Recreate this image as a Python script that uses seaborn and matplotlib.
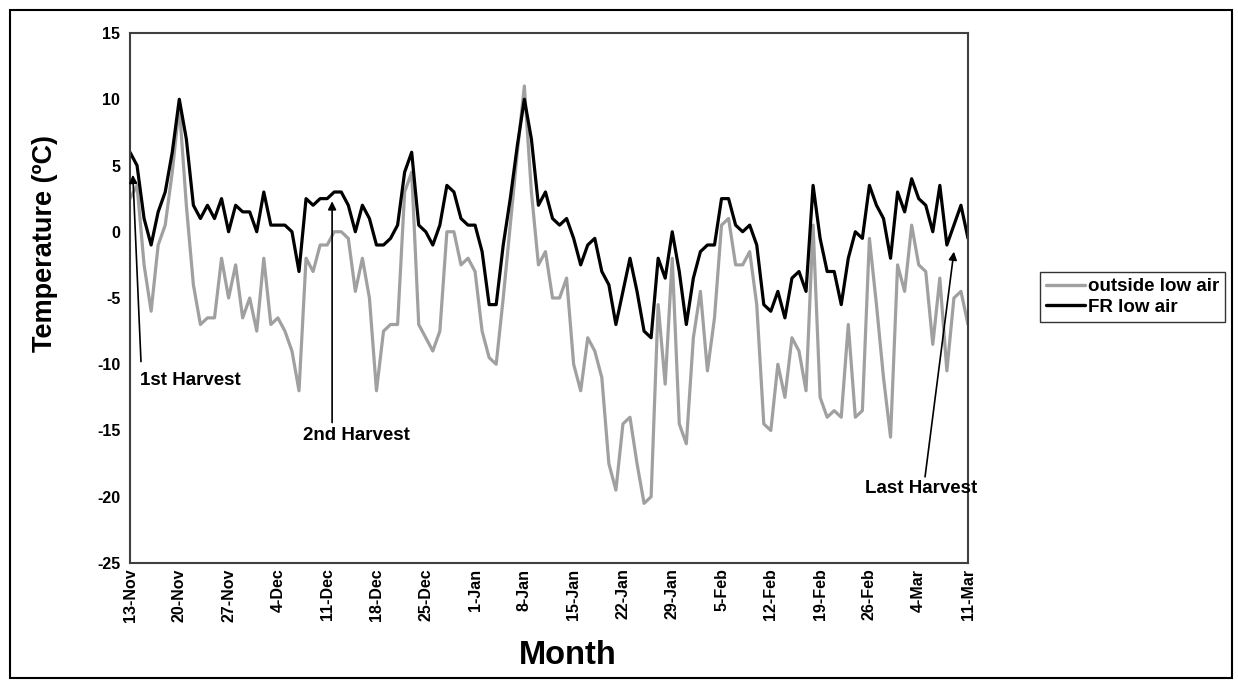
import matplotlib
matplotlib.use("Agg")
import matplotlib.pyplot as plt
import matplotlib.patches as patches
import seaborn as sns
import numpy as np
import pandas as pd

# ---- data ----
tick_labels = ["13-Nov", "20-Nov", "27-Nov", "4-Dec", "11-Dec", "18-Dec", "25-Dec",
               "1-Jan", "8-Jan", "15-Jan", "22-Jan", "29-Jan", "5-Feb", "12-Feb",
               "19-Feb", "26-Feb", "4-Mar", "11-Mar"]
tick_days = [0, 7, 14, 21, 28, 35, 42, 49, 56, 63, 70, 77, 84, 91, 98, 105, 112, 119]

fr_low_air = [6, 5, 1, -1, 1.5, 3, 6, 10, 7, 2,
              1, 2, 1, 2.5, 0, 2, 1.5, 1.5, 0, 3,
              0.5, 0.5, 0.5, 0, -3, 2.5, 2, 2.5, 2.5, 3,
              3, 2, 0, 2, 1, -1, -1, -0.5, 0.5, 4.5,
              6, 0.5, 0, -1, 0.5, 3.5, 3, 1, 0.5, 0.5,
              -1.5, -5.5, -5.5, -1, 2.5, 6.5, 10, 7, 2, 3,
              1, 0.5, 1, -0.5, -2.5, -1, -0.5, -3, -4, -7,
              -4.5, -2, -4.5, -7.5, -8, -2, -3.5, 0, -3, -7,
              -3.5, -1.5, -1, -1, 2.5, 2.5, 0.5, 0, 0.5, -1,
              -5.5, -6, -4.5, -6.5, -3.5, -3, -4.5, 3.5, -0.5, -3,
              -3, -5.5, -2, 0, -0.5, 3.5, 2, 1, -2, 3,
              1.5, 4, 2.5, 2, 0, 3.5, -1, 0.5, 2, -0.5]

outside_low_air = [2.5, 3.5, -2.5, -6, -1, 0.5, 4.5, 9.5, 2, -4,
                   -7, -6.5, -6.5, -2, -5, -2.5, -6.5, -5, -7.5, -2,
                   -7, -6.5, -7.5, -9, -12, -2, -3, -1, -1, 0,
                   0, -0.5, -4.5, -2, -5, -12, -7.5, -7, -7, 3,
                   4.5, -7, -8, -9, -7.5, 0, 0, -2.5, -2, -3,
                   -7.5, -9.5, -10, -5, 0.5, 6, 11, 3, -2.5, -1.5,
                   -5, -5, -3.5, -10, -12, -8, -9, -11, -17.5, -19.5,
                   -14.5, -14, -17.5, -20.5, -20, -5.5, -11.5, -2, -14.5, -16,
                   -8, -4.5, -10.5, -6.5, 0.5, 1, -2.5, -2.5, -1.5, -5.5,
                   -14.5, -15, -10, -12.5, -8, -9, -12, 0.5, -12.5, -14,
                   -13.5, -14, -7, -14, -13.5, -0.5, -5.5, -11, -15.5, -2.5,
                   -4.5, 0.5, -2.5, -3, -8.5, -3.5, -10.5, -5, -4.5, -7]

series_names = ["outside low air", "FR low air"]
y_ticks = [-25, -20, -15, -10, -5, 0, 5, 10, 15]

# harvest annotations: label, arrow head (day, value)
harvest_labels = ["1st Harvest", "2nd Harvest", "Last Harvest"]
harvest_heads = [(0.4, 4.3), (28.7, 2.3), (117.0, -1.5)]

# ---- build frame ----
n = len(fr_low_air)
df = pd.DataFrame({
    "day": list(range(n)) * 2,
    "temp": outside_low_air + fr_low_air,
    "series": [series_names[0]] * n + [series_names[1]] * n,
})

sns.set_theme(style="white")
plt.rcParams["font.family"] = ["Liberation Sans", "DejaVu Sans"]
plt.rcParams["font.weight"] = "bold"
plt.rcParams["text.color"] = "black"
plt.rcParams["axes.labelcolor"] = "black"
plt.rcParams["xtick.color"] = "black"
plt.rcParams["ytick.color"] = "black"

W, H = 1238, 688
fig = plt.figure(figsize=(W / 100, H / 100), dpi=100)
L, R, T, B = 130, 968, 33, 563
ax = fig.add_axes([L / W, 1 - B / H, (R - L) / W, (B - T) / H])

palette = {series_names[0]: "#a0a0a0", series_names[1]: "#000000"}
sns.lineplot(data=df, x="day", y="temp", hue="series", hue_order=series_names,
             palette=palette, linewidth=2.3, ax=ax, legend=True, sort=False)

ax.set_xlim(0, n - 1)
ax.set_ylim(-25, 15)
ax.set_yticks(y_ticks)
ax.set_yticklabels([str(v) for v in y_ticks], fontsize=11.5, fontweight="bold")
ax.set_xticks(tick_days)
ax.set_xticklabels(tick_labels, rotation=90, fontsize=11.5, fontweight="bold")
ax.tick_params(axis="y", length=0, pad=7, colors="black")
ax.tick_params(axis="x", length=0, pad=4, colors="black")
ax.set_xlabel("")
ax.set_ylabel("")
for s in ax.spines.values():
    s.set_color("#404040")
    s.set_linewidth(1.5)
    s.set_visible(True)

# legend
leg = ax.legend(loc="center left", bbox_to_anchor=(1040 / W, 1 - 297 / H),
                bbox_transform=fig.transFigure, borderaxespad=0, frameon=True,
                fancybox=False, edgecolor="black", handlelength=2.1,
                handletextpad=0.15, borderpad=0.3, labelspacing=0.2,
                prop={"weight": "bold", "size": 13.5})
leg.get_frame().set_linewidth(1.0)
for line in leg.get_lines():
    line.set_linewidth(2.4)

# annotations
tails = [(1.56, -9.8), (28.7, -14.4), (112.9, -18.5)]
texts = [(1.4, -11.2, "left"), (32.2, -15.4, "center"), (112.4, -19.4, "center")]
for lab, (hx, hy), (tx, ty), (lx, ly, ha) in zip(harvest_labels, harvest_heads, tails, texts):
    ax.annotate("", xy=(hx, hy), xytext=(tx, ty),
                arrowprops=dict(arrowstyle="-|>", color="black", lw=1.2,
                                mutation_scale=12, shrinkA=0, shrinkB=0))
    ax.text(lx, ly, lab, ha=ha, va="center", fontsize=13.5, fontweight="bold")

fig.text(45 / W, 1 - 243 / H, "Temperature (ºC)", rotation=90, ha="center",
         va="center", fontsize=19.5, fontweight="bold")
fig.text(568 / W, 1 - 655 / H, "Month", ha="center", va="center",
         fontsize=23.5, fontweight="bold")

# outer chart border
fig.patches.append(patches.Rectangle((10 / W, 10 / H), (1232 - 10) / W, (678 - 10) / H,
                                     transform=fig.transFigure, fill=False,
                                     edgecolor="black", linewidth=1.5))

fig.savefig("out.png", dpi=100)
